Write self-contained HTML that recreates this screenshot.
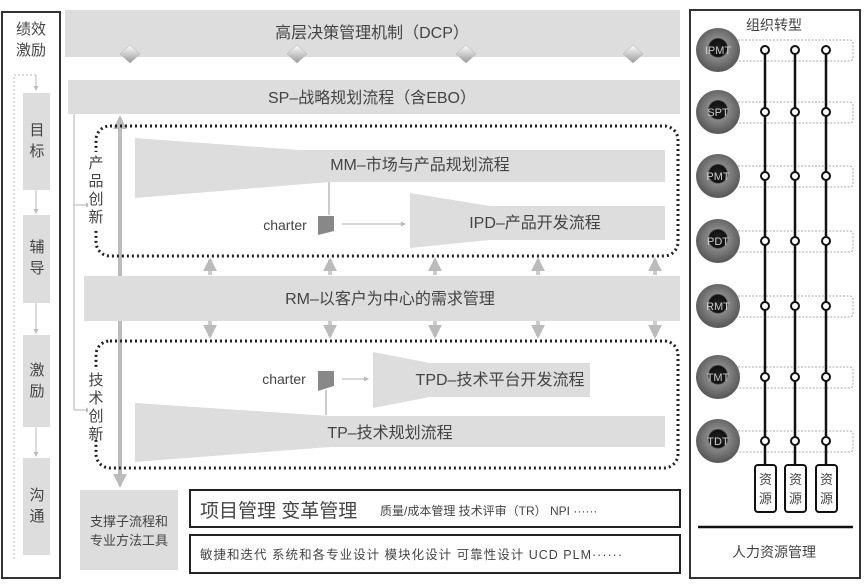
<!DOCTYPE html>
<html><head><meta charset="utf-8"><style>
html,body{margin:0;padding:0;background:#fff}
svg{display:block}
text{font-family:"Liberation Sans","Noto Sans CJK SC",sans-serif;fill:#444}
</style></head><body>
<svg width="865" height="588" viewBox="0 0 865 588" xmlns="http://www.w3.org/2000/svg">
<defs>
<marker id="ah" viewBox="0 0 10 10" refX="8" refY="5" markerWidth="5" markerHeight="5" orient="auto"><path d="M0,0L10,5L0,10z" fill="#bbb"/></marker>
<marker id="ahb" viewBox="0 0 10 10" refX="8" refY="5" markerWidth="3.5" markerHeight="3.5" orient="auto"><path d="M0,0L10,5L0,10z" fill="#bbb"/></marker>
<radialGradient id="ball" cx="50%" cy="45%" r="55%"><stop offset="0" stop-color="#222"/><stop offset="0.36" stop-color="#111"/><stop offset="0.42" stop-color="#888"/><stop offset="1" stop-color="#555"/></radialGradient>
<linearGradient id="dia" x1="0" y1="0" x2="0" y2="1"><stop offset="0" stop-color="#fff"/><stop offset="1" stop-color="#999"/></linearGradient>
</defs>

<rect x="2" y="12" width="58" height="566" fill="#fff" stroke="#333" stroke-width="2"/>
<text x="31" y="34" font-size="15" text-anchor="middle">绩效</text>
<text x="31" y="55" font-size="15" text-anchor="middle">激励</text>
<path d="M36,75 L14,75 L14,560" fill="none" stroke="#bbb" stroke-dasharray="2,2"/>
<path d="M36,75 L36,90" fill="none" stroke="#bbb" marker-end="url(#ah)"/>
<rect x="23" y="93" width="27" height="97" fill="#ddd"/>
<text x="37" y="135" font-size="15" text-anchor="middle">目</text>
<text x="37" y="156" font-size="15" text-anchor="middle">标</text>
<line x1="36" y1="190" x2="36" y2="213" stroke="#bbb" marker-end="url(#ah)"/>
<rect x="23" y="215" width="27" height="88" fill="#ddd"/>
<text x="37" y="252" font-size="15" text-anchor="middle">辅</text>
<text x="37" y="273" font-size="15" text-anchor="middle">导</text>
<line x1="36" y1="303" x2="36" y2="333" stroke="#bbb" marker-end="url(#ah)"/>
<rect x="23" y="335" width="27" height="92" fill="#ddd"/>
<text x="37" y="375" font-size="15" text-anchor="middle">激</text>
<text x="37" y="396" font-size="15" text-anchor="middle">励</text>
<line x1="36" y1="427" x2="36" y2="456" stroke="#bbb" marker-end="url(#ah)"/>
<rect x="23" y="458" width="27" height="97" fill="#ddd"/>
<text x="37" y="500" font-size="15" text-anchor="middle">沟</text>
<text x="37" y="521" font-size="15" text-anchor="middle">通</text>

<rect x="65" y="10" width="615" height="47" fill="#ddd"/>
<text x="372" y="38" font-size="16" text-anchor="middle">高层决策管理机制（DCP）</text>
<g fill="url(#dia)" stroke="#aaa" stroke-width="0.5">
<path d="M130,45 L140,54 L130,63 L120,54z"/>
<path d="M297,45 L307,54 L297,63 L287,54z"/>
<path d="M466,45 L476,54 L466,63 L456,54z"/>
<path d="M633,45 L643,54 L633,63 L623,54z"/>
</g>
<rect x="68" y="80" width="612" height="34" fill="#ddd"/>
<text x="372" y="103" font-size="16" text-anchor="middle">SP–战略规划流程（含EBO）</text>

<path d="M74,114 L74,410" stroke="#ccc" stroke-width="1.5" fill="none"/>
<line x1="74" y1="205" x2="90" y2="205" stroke="#ccc" stroke-width="1.5" marker-end="url(#ahb)"/>
<line x1="74" y1="410" x2="90" y2="410" stroke="#ccc" stroke-width="1.5" marker-end="url(#ahb)"/>
<line x1="120" y1="480" x2="120" y2="118" stroke="#bbb" stroke-width="4" marker-end="url(#ahb)"/>
<line x1="120" y1="470" x2="120" y2="485" stroke="#bbb" stroke-width="4" marker-end="url(#ahb)"/>

<rect x="96" y="126" width="582" height="130" rx="14" fill="none" stroke="#222" stroke-width="3" stroke-dasharray="2,3"/>
<rect x="88" y="152" width="16" height="78" fill="#fff"/>
<text x="96" y="168" font-size="15" text-anchor="middle">产</text>
<text x="96" y="186" font-size="15" text-anchor="middle">品</text>
<text x="96" y="204" font-size="15" text-anchor="middle">创</text>
<text x="96" y="222" font-size="15" text-anchor="middle">新</text>
<path d="M135,138 L300,150 L665,150 L665,182 L330,182 L135,198z" fill="#ddd"/>
<text x="420" y="170" font-size="16" text-anchor="middle">MM–市场与产品规划流程</text>
<line x1="329" y1="182" x2="329" y2="215" stroke="#bbb" stroke-width="1.5"/>
<text x="285" y="230" font-size="14" text-anchor="middle">charter</text>
<path d="M318,216 L334,216 L334,231 L318,235z" fill="#888"/>
<line x1="342" y1="224" x2="405" y2="224" stroke="#ccc" stroke-width="1.5" marker-end="url(#ahb)"/>
<path d="M410,193 L490,206 L665,206 L665,240 L490,240 L410,248z" fill="#ddd"/>
<text x="535" y="228" font-size="16" text-anchor="middle">IPD–产品开发流程</text>

<g stroke="#ccc" stroke-width="4">
<line x1="210" y1="275" x2="210" y2="260" marker-end="url(#ahb)"/>
<line x1="330" y1="275" x2="330" y2="260" marker-end="url(#ahb)"/>
<line x1="435" y1="275" x2="435" y2="260" marker-end="url(#ahb)"/>
<line x1="538" y1="275" x2="538" y2="260" marker-end="url(#ahb)"/>
<line x1="655" y1="275" x2="655" y2="260" marker-end="url(#ahb)"/>
<line x1="210" y1="320" x2="210" y2="336" marker-end="url(#ahb)"/>
<line x1="330" y1="320" x2="330" y2="336" marker-end="url(#ahb)"/>
<line x1="435" y1="320" x2="435" y2="336" marker-end="url(#ahb)"/>
<line x1="538" y1="320" x2="538" y2="336" marker-end="url(#ahb)"/>
<line x1="655" y1="320" x2="655" y2="336" marker-end="url(#ahb)"/>
</g>
<rect x="84" y="276" width="596" height="45" fill="#ddd"/>
<text x="390" y="304" font-size="16" text-anchor="middle">RM–以客户为中心的需求管理</text>

<rect x="96" y="341" width="582" height="127" rx="14" fill="none" stroke="#222" stroke-width="3" stroke-dasharray="2,3"/>
<rect x="88" y="370" width="16" height="70" fill="#fff"/>
<text x="96" y="385" font-size="15" text-anchor="middle">技</text>
<text x="96" y="403" font-size="15" text-anchor="middle">术</text>
<text x="96" y="421" font-size="15" text-anchor="middle">创</text>
<text x="96" y="439" font-size="15" text-anchor="middle">新</text>
<path d="M373,352 L430,363 L590,363 L590,397 L430,397 L373,408z" fill="#ddd"/>
<text x="500" y="385" font-size="16" text-anchor="middle">TPD–技术平台开发流程</text>
<text x="284" y="384" font-size="14" text-anchor="middle">charter</text>
<path d="M318,371 L334,371 L334,386 L318,391z" fill="#888"/>
<line x1="326" y1="390" x2="326" y2="415" stroke="#bbb" stroke-width="1.5"/>
<line x1="342" y1="379" x2="368" y2="379" stroke="#ccc" stroke-width="1.5" marker-end="url(#ahb)"/>
<path d="M135,403 L330,416 L665,416 L665,447 L330,447 L135,462z" fill="#ddd"/>
<text x="390" y="438" font-size="16" text-anchor="middle">TP–技术规划流程</text>

<rect x="80" y="490" width="98" height="80" fill="#ddd"/>
<text x="129" y="526" font-size="13" text-anchor="middle">支撑子流程和</text>
<text x="129" y="545" font-size="13" text-anchor="middle">专业方法工具</text>
<rect x="190" y="490" width="490" height="37" fill="#fff" stroke="#222" stroke-width="2"/>
<text x="200" y="517" font-size="19">项目管理  变革管理</text>
<text x="380" y="515" font-size="12">质量/成本管理   技术评审（TR）   NPI ······</text>
<rect x="190" y="535" width="490" height="38" fill="#fff" stroke="#222" stroke-width="2"/>
<text x="200" y="559" font-size="12.5" textLength="422" lengthAdjust="spacing">敏捷和迭代  系统和各专业设计  模块化设计   可靠性设计  UCD  PLM······</text>

<rect x="690" y="10" width="170" height="568" fill="#fff" stroke="#333" stroke-width="2"/>
<text x="774" y="30" font-size="14" text-anchor="middle">组织转型</text>
<g fill="none" stroke="#aaa" stroke-dasharray="2,1.5">
<rect x="735" y="40" width="118" height="21" rx="3"/>
<rect x="735" y="102" width="118" height="21" rx="3"/>
<rect x="735" y="166" width="118" height="21" rx="3"/>
<rect x="735" y="231" width="118" height="21" rx="3"/>
<rect x="735" y="296" width="118" height="21" rx="3"/>
<rect x="735" y="367" width="118" height="21" rx="3"/>
<rect x="735" y="431" width="118" height="21" rx="3"/>
</g>
<g stroke="#111" stroke-width="2.5">
<line x1="765" y1="50" x2="765" y2="466"/>
<line x1="795" y1="50" x2="795" y2="466"/>
<line x1="826" y1="50" x2="826" y2="466"/>
</g>
<g fill="#fff" stroke="#111" stroke-width="2">
<circle cx="765" cy="50" r="4"/><circle cx="795" cy="50" r="4"/><circle cx="826" cy="50" r="4"/>
<circle cx="765" cy="112" r="4"/><circle cx="795" cy="112" r="4"/><circle cx="826" cy="112" r="4"/>
<circle cx="765" cy="176" r="4"/><circle cx="795" cy="176" r="4"/><circle cx="826" cy="176" r="4"/>
<circle cx="765" cy="241" r="4"/><circle cx="795" cy="241" r="4"/><circle cx="826" cy="241" r="4"/>
<circle cx="765" cy="306" r="4"/><circle cx="795" cy="306" r="4"/><circle cx="826" cy="306" r="4"/>
<circle cx="765" cy="377" r="4"/><circle cx="795" cy="377" r="4"/><circle cx="826" cy="377" r="4"/>
<circle cx="765" cy="441" r="4"/><circle cx="795" cy="441" r="4"/><circle cx="826" cy="441" r="4"/>
</g>
<g font-size="11" text-anchor="middle">
<circle cx="718" cy="50" r="22" fill="url(#ball)"/><text x="718" y="54" style="fill:#ccc">IPMT</text>
<circle cx="718" cy="112" r="22" fill="url(#ball)"/><text x="718" y="116" style="fill:#ccc">SPT</text>
<circle cx="718" cy="176" r="22" fill="url(#ball)"/><text x="718" y="180" style="fill:#ccc">PMT</text>
<circle cx="718" cy="241" r="22" fill="url(#ball)"/><text x="718" y="245" style="fill:#ccc">PDT</text>
<circle cx="718" cy="306" r="22" fill="url(#ball)"/><text x="718" y="310" style="fill:#ccc">RMT</text>
<circle cx="718" cy="377" r="22" fill="url(#ball)"/><text x="718" y="381" style="fill:#ccc">TMT</text>
<circle cx="718" cy="441" r="22" fill="url(#ball)"/><text x="718" y="445" style="fill:#ccc">TDT</text>
</g>
<g fill="#fff" stroke="#111" stroke-width="2">
<rect x="755" y="465" width="21" height="47" rx="3"/>
<rect x="785" y="465" width="21" height="47" rx="3"/>
<rect x="816" y="465" width="21" height="47" rx="3"/>
</g>
<g font-size="13" text-anchor="middle">
<text x="765.5" y="484">资</text><text x="765.5" y="503">源</text>
<text x="795.5" y="484">资</text><text x="795.5" y="503">源</text>
<text x="826.5" y="484">资</text><text x="826.5" y="503">源</text>
</g>
<line x1="698" y1="527" x2="853" y2="527" stroke="#111" stroke-width="2.5"/>
<text x="774" y="557" font-size="14" text-anchor="middle">人力资源管理</text>
</svg>
</body></html>
